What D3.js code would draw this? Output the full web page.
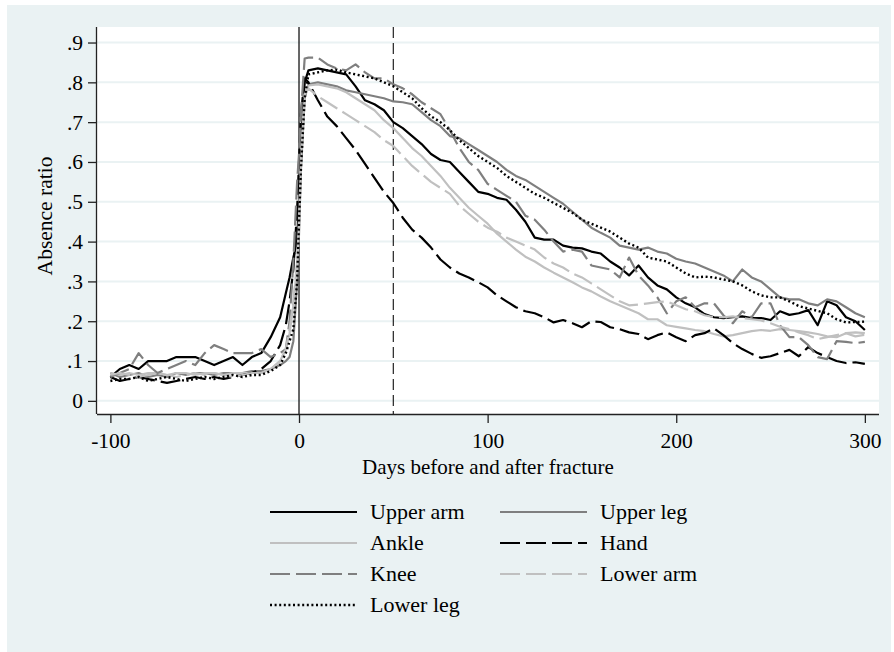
<!DOCTYPE html>
<html><head><meta charset="utf-8">
<script src="https://cdn.jsdelivr.net/npm/d3@7"></script>
<style>body{margin:0;background:#fff}svg{display:block}</style>
</head><body><svg id="c" width="894" height="652"></svg>
<script>
// x values (days relative to fracture)
const days = [-100,-95,-90,-85,-80,-75,-70,-65,-60,-55,-50,-45,-40,-35,-30,-25,-20,-15,-10,
  -7,-5,-3,-1,0,1,3,
  5,10,15,20,25,30,35,40,45,50,55,60,65,70,75,80,85,90,95,100,
  105,110,115,120,125,130,135,140,145,150,155,160,165,170,175,180,185,190,195,200,
  205,210,215,220,225,230,235,240,245,250,255,260,265,270,275,280,285,290,295,300];

const upperArm = [0.06,0.08,0.09,0.08,0.10,0.10,0.10,0.11,0.11,0.11,0.10,0.09,0.10,0.11,0.09,0.11,0.12,0.16,0.21,
  0.27,0.31,0.36,0.40,0.50,0.65,0.80,
  0.83,0.835,0.83,0.825,0.82,0.79,0.755,0.745,0.73,0.70,
  0.685,0.665,0.645,0.62,0.605,0.60,0.575,0.55,0.525,0.52,
  0.51,0.505,0.48,0.45,0.41,0.405,0.405,0.39,0.385,0.383,
  0.375,0.37,0.35,0.335,0.315,0.34,0.31,0.29,0.28,0.26,
  0.245,0.235,0.218,0.21,0.208,0.21,0.212,0.208,0.208,0.203,
  0.225,0.216,0.22,0.228,0.19,0.25,0.24,0.21,0.20,0.178];

const upperLeg = [0.07,0.06,0.065,0.07,0.06,0.065,0.06,0.07,0.065,0.07,0.07,0.065,0.07,0.07,0.07,0.075,0.075,0.08,0.09,
  0.10,0.11,0.15,0.30,0.42,0.58,0.76,
  0.795,0.80,0.795,0.79,0.78,0.775,0.77,0.765,0.76,0.752,
  0.75,0.745,0.725,0.705,0.69,0.665,0.66,0.645,0.63,0.615,
  0.60,0.58,0.565,0.555,0.54,0.525,0.51,0.495,0.475,0.455,
  0.435,0.422,0.41,0.39,0.385,0.38,0.385,0.375,0.37,0.357,
  0.35,0.345,0.335,0.325,0.315,0.30,0.33,0.31,0.30,0.28,
  0.26,0.255,0.255,0.245,0.24,0.255,0.25,0.235,0.22,0.21];

const ankle = [0.07,0.065,0.07,0.065,0.07,0.07,0.065,0.07,0.07,0.065,0.07,0.07,0.065,0.07,0.07,0.07,0.07,0.08,0.10,
  0.13,0.17,0.24,0.34,0.45,0.62,0.77,
  0.792,0.795,0.79,0.785,0.775,0.76,0.745,0.73,0.705,0.685,
  0.66,0.635,0.615,0.59,0.565,0.535,0.51,0.485,0.465,0.445,
  0.42,0.40,0.38,0.362,0.35,0.335,0.322,0.31,0.298,0.285,
  0.275,0.262,0.25,0.24,0.23,0.22,0.205,0.205,0.19,0.186,
  0.182,0.178,0.175,0.168,0.162,0.165,0.17,0.175,0.178,0.176,
  0.18,0.178,0.175,0.172,0.168,0.162,0.16,0.17,0.172,0.17];

const hand = [0.06,0.05,0.055,0.06,0.055,0.05,0.045,0.05,0.055,0.06,0.055,0.06,0.055,0.06,0.065,0.07,0.08,0.10,0.14,
  0.19,0.25,0.33,0.48,0.60,0.72,0.81,
  0.80,0.755,0.714,0.69,0.66,0.63,0.595,0.56,0.525,0.497,
  0.46,0.43,0.41,0.385,0.355,0.335,0.32,0.31,0.298,0.285,
  0.265,0.25,0.235,0.225,0.22,0.21,0.197,0.203,0.195,0.185,
  0.20,0.198,0.185,0.18,0.172,0.168,0.155,0.165,0.172,0.16,
  0.15,0.165,0.17,0.182,0.165,0.145,0.13,0.118,0.108,0.112,
  0.12,0.128,0.112,0.135,0.12,0.11,0.10,0.095,0.097,0.093];

const knee = [0.06,0.07,0.08,0.12,0.09,0.07,0.08,0.09,0.10,0.09,0.12,0.14,0.13,0.12,0.12,0.12,0.13,0.11,0.12,
  0.13,0.20,0.35,0.55,0.62,0.72,0.86,
  0.862,0.862,0.845,0.835,0.83,0.845,0.825,0.81,0.81,0.795,
  0.785,0.77,0.75,0.735,0.72,0.68,0.635,0.60,0.58,0.545,
  0.53,0.515,0.50,0.465,0.455,0.43,0.40,0.375,0.38,0.375,
  0.34,0.335,0.33,0.31,0.36,0.315,0.29,0.26,0.22,0.25,
  0.26,0.235,0.245,0.245,0.215,0.195,0.225,0.21,0.245,0.245,
  0.19,0.16,0.16,0.14,0.11,0.105,0.15,0.148,0.145,0.148];

const lowerArm = [0.065,0.07,0.065,0.06,0.065,0.07,0.065,0.06,0.065,0.07,0.065,0.07,0.065,0.06,0.065,0.07,0.07,0.08,0.10,
  0.13,0.18,0.25,0.35,0.45,0.60,0.77,
  0.785,0.765,0.75,0.735,0.72,0.705,0.69,0.675,0.655,0.64,
  0.615,0.59,0.57,0.55,0.535,0.52,0.49,0.47,0.45,0.435,
  0.425,0.41,0.40,0.39,0.38,0.36,0.345,0.335,0.32,0.31,
  0.295,0.28,0.265,0.25,0.24,0.242,0.245,0.248,0.25,0.24,
  0.23,0.225,0.215,0.21,0.21,0.212,0.208,0.205,0.202,0.195,
  0.186,0.18,0.172,0.165,0.155,0.16,0.165,0.17,0.162,0.166];

const lowerLeg = [0.05,0.055,0.055,0.06,0.05,0.055,0.06,0.055,0.05,0.055,0.06,0.055,0.06,0.065,0.06,0.065,0.065,0.075,0.09,
  0.12,0.15,0.18,0.30,0.45,0.58,0.76,
  0.82,0.825,0.83,0.832,0.825,0.82,0.815,0.81,0.80,0.79,
  0.775,0.76,0.735,0.715,0.70,0.68,0.655,0.635,0.615,0.60,
  0.585,0.565,0.55,0.535,0.52,0.51,0.497,0.485,0.472,0.455,
  0.445,0.435,0.425,0.41,0.395,0.385,0.36,0.355,0.35,0.335,
  0.32,0.31,0.312,0.31,0.305,0.30,0.29,0.275,0.265,0.26,
  0.26,0.25,0.238,0.232,0.226,0.22,0.205,0.197,0.198,0.199];

const seriesNames = ["Upper arm","Upper leg","Ankle","Hand","Knee","Lower arm","Lower leg"];
const seriesValues = [upperArm, upperLeg, ankle, hand, knee, lowerArm, lowerLeg];
const xTicks = [-100, 0, 100, 200, 300];
const xTickLabels = ["-100","0","100","200","300"];
const yTicks = [0,.1,.2,.3,.4,.5,.6,.7,.8,.9];
const yTickLabels = ["0",".1",".2",".3",".4",".5",".6",".7",".8",".9"];
const refLines = [0, 50];

const styles = [
  {color:"#000000", dash:null},
  {color:"#7f7f7f", dash:null},
  {color:"#c0c0c0", dash:null},
  {color:"#000000", dash:"20,6"},
  {color:"#7f7f7f", dash:"20,6"},
  {color:"#c0c0c0", dash:"20,6"},
  {color:"#000000", dash:"2,2.6"}
];

const svg = d3.select("#c");
const font = "'Liberation Serif','Times New Roman',serif";
svg.append("rect").attr("x",7).attr("y",5).attr("width",884).attr("height",647).attr("fill","#eaf2f3");

const L=97, R=879, T=27, B=414;
const x = d3.scaleLinear().domain([-107.1, 307.5]).range([L, R]);
const y = d3.scaleLinear().domain([-0.033, 0.939]).range([B, T]);

svg.append("rect").attr("x",L).attr("y",T).attr("width",R-L).attr("height",B-T).attr("fill","#fff");

// gridlines
svg.append("g").selectAll("line").data(yTicks).join("line")
  .attr("x1",L).attr("x2",R).attr("y1",d=>y(d)).attr("y2",d=>y(d))
  .attr("stroke","#eaf2f3").attr("stroke-width",2);

// reference lines
svg.append("line").attr("x1",x(refLines[0])).attr("x2",x(refLines[0])).attr("y1",T).attr("y2",B)
  .attr("stroke","#000").attr("stroke-width",1.2);
svg.append("line").attr("x1",x(refLines[1])).attr("x2",x(refLines[1])).attr("y1",T).attr("y2",B)
  .attr("stroke","#222").attr("stroke-width",1.2).attr("stroke-dasharray","11,5");

// series
const line = d3.line().x((d,i)=>x(days[i])).y(d=>y(d));
const plot = svg.append("g");
seriesValues.forEach((vals,k)=>{
  plot.append("path").attr("d", line(vals)).attr("fill","none")
    .attr("stroke", styles[k].color).attr("stroke-width", k===6?2.4:2.2)
    .attr("stroke-linejoin","round")
    .attr("stroke-dasharray", styles[k].dash);
});

// axes
const xAxis = d3.axisBottom(x).tickValues(xTicks).tickSize(9).tickPadding(10).tickFormat((d,i)=>xTickLabels[i]);
const gx = svg.append("g").attr("transform",`translate(0,${B})`).call(xAxis);
gx.select(".domain").attr("d",`M${L},0.5H${R}`).attr("stroke","#222").attr("stroke-width",1.3);
gx.selectAll(".tick line").attr("stroke","#222").attr("stroke-width",1.3);
gx.selectAll("text").attr("font-family",font).attr("font-size",21.5).attr("fill","#000");

const yAxis = d3.axisLeft(y).tickValues(yTicks).tickSize(9).tickPadding(5).tickFormat((d,i)=>yTickLabels[i]);
const gy = svg.append("g").attr("transform",`translate(${L},0)`).call(yAxis);
gy.select(".domain").attr("d",`M-0.5,${T}V${B}`).attr("stroke","#222").attr("stroke-width",1.3);
gy.selectAll(".tick line").attr("stroke","#222").attr("stroke-width",1.3);
gy.selectAll("text").attr("font-family",font).attr("font-size",21.5).attr("fill","#000");

// titles
svg.append("text").attr("x",(L+R)/2).attr("y",474).attr("text-anchor","middle")
  .attr("font-family",font).attr("font-size",21).text("Days before and after fracture");
svg.append("text").attr("transform","translate(52,216) rotate(-90)").attr("text-anchor","middle")
  .attr("font-family",font).attr("font-size",21.5).text("Absence ratio");

// legend
const lg = svg.append("g");
seriesNames.forEach((name,k)=>{
  const col = k%2, row = Math.floor(k/2);
  const lx = col===0 ? 270 : 500;
  const ly = 512 + row*31;
  lg.append("line").attr("x1",lx).attr("x2",lx+87).attr("y1",ly).attr("y2",ly)
    .attr("stroke",styles[k].color).attr("stroke-width",k===6?2.4:2.2)
    .attr("stroke-dasharray", styles[k].dash);
  lg.append("text").attr("x",lx+100).attr("y",ly+7).attr("font-family",font).attr("font-size",22)
    .text(name);
});
</script></body></html>
